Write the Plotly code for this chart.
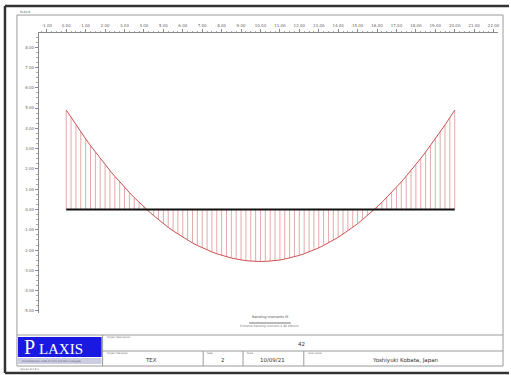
import plotly.graph_objects as go

# ---------------- data ----------------
node_x = [0.0, 0.25, 0.5, 0.75, 1.0, 1.25, 1.5, 1.75, 2.0, 2.25, 2.5, 2.75, 3.0, 3.25, 3.5, 3.75,
          4.0, 4.25, 4.5, 4.75, 5.0, 5.25, 5.5, 5.75, 6.0, 6.25, 6.5, 6.75, 7.0, 7.25, 7.5, 7.75,
          8.0, 8.25, 8.5, 8.75, 9.0, 9.25, 9.5, 9.75, 10.0, 10.25, 10.5, 10.75, 11.0, 11.25, 11.5,
          11.75, 12.0, 12.25, 12.5, 12.75, 13.0, 13.25, 13.5, 13.75, 14.0, 14.25, 14.5, 14.75, 15.0,
          15.25, 15.5, 15.75, 16.0, 16.25, 16.5, 16.75, 17.0, 17.25, 17.5, 17.75, 18.0, 18.25, 18.5,
          18.75, 19.0, 19.25, 19.5, 19.75, 20.0]
moment = [4.90, 4.53, 4.17, 3.82, 3.48, 3.15, 2.83, 2.52, 2.21, 1.92, 1.64, 1.36, 1.10, 0.84, 0.59, 0.35,
          0.13, -0.09, -0.30, -0.50, -0.70, -0.88, -1.05, -1.21, -1.37, -1.51, -1.65, -1.77, -1.89, -2.00, -2.09, -2.18,
          -2.26, -2.33, -2.39, -2.44, -2.49, -2.52, -2.54, -2.56, -2.56, -2.56, -2.54, -2.52, -2.49, -2.44, -2.39,
          -2.33, -2.26, -2.18, -2.09, -2.00, -1.89, -1.77, -1.65, -1.51, -1.37, -1.21, -1.05, -0.88, -0.70,
          -0.50, -0.30, -0.09, 0.13, 0.35, 0.59, 0.84, 1.10, 1.36, 1.64, 1.92, 2.21, 2.52, 2.83,
          3.15, 3.48, 3.82, 4.17, 4.53, 4.90]
beam_x = [0.0, 20.0]
beam_y = [0.0, 0.0]

x_tickvals = [-1, 0, 1, 2, 3, 4, 5, 6, 7, 8, 9, 10, 11, 12, 13, 14, 15, 16, 17, 18, 19, 20, 21, 22]
x_ticktext = ["-1.00", "0.00", "1.00", "2.00", "3.00", "4.00", "5.00", "6.00", "7.00", "8.00", "9.00",
              "10.00", "11.00", "12.00", "13.00", "14.00", "15.00", "16.00", "17.00", "18.00", "19.00",
              "20.00", "21.00", "22.00"]
y_tickvals = [8, 7, 6, 5, 4, 3, 2, 1, 0, -1, -2, -3, -4, -5]
y_ticktext = ["8.00", "7.00", "6.00", "5.00", "4.00", "3.00", "2.00", "1.00", "0.00",
              "-1.00", "-2.00", "-3.00", "-4.00", "-5.00"]

title_project = "42"
cell_labels = ["Project description", "Project filename", "Step", "Date", "User name"]
cell_values = ["TEX", "2", "10/09/21", "Yoshiyuki Kobata, Japan"]
caption = "Bending moments M"
caption2 = "Extreme bending moment 4.90 kNm/m"

# ---------------- figure ----------------
W, H = 511, 375


def px(x):
    return x / W


def py(y):
    return 1 - y / H


hx, hy = [], []
for xv, mv in zip(node_x, moment):
    hx += [xv, xv, None]
    hy += [0, mv, None]

fig = go.Figure()
fig.add_trace(go.Scatter(x=hx, y=hy, mode="lines",
                         line=dict(color="rgba(214,125,125,0.65)", width=1),
                         hoverinfo="skip", showlegend=False))
fig.add_trace(go.Scatter(x=node_x, y=moment, mode="lines",
                         line=dict(color="rgb(205,80,80)", width=1),
                         showlegend=False))
fig.add_trace(go.Scatter(x=beam_x, y=beam_y, mode="lines",
                         line=dict(color="#111111", width=2),
                         showlegend=False))

tickfont = dict(family="DejaVu Sans", size=4, color="#666666")
fig.update_layout(
    width=W, height=H,
    margin=dict(l=0, r=0, t=0, b=0),
    paper_bgcolor="white", plot_bgcolor="white",
    xaxis=dict(domain=[px(39), px(500)], range=[-1.41, 22.23], side="top",
               tickvals=x_tickvals, ticktext=x_ticktext, tickfont=tickfont,
               showgrid=False, zeroline=False, showline=True, linecolor="#8a8a8a", linewidth=1,
               ticks="outside", ticklen=3, tickcolor="#8a8a8a",
               minor=dict(ticks="outside", ticklen=1.5, dtick=0.25, tickcolor="#aaaaaa"),
               fixedrange=True),
    yaxis=dict(domain=[py(313), py(33)], range=[-5.10, 8.70],
               tickvals=y_tickvals, ticktext=y_ticktext, tickfont=tickfont,
               showgrid=False, zeroline=False, showline=True, linecolor="#8a8a8a", linewidth=1,
               ticks="outside", ticklen=3, tickcolor="#8a8a8a",
               minor=dict(ticks="outside", ticklen=1.5, dtick=0.25, tickcolor="#aaaaaa"),
               fixedrange=True),
)

shapes = []


def line(x0, y0, x1, y1, color="#9a9a9a", width=1):
    shapes.append(dict(type="line", xref="paper", yref="paper",
                       x0=px(x0), y0=py(y0), x1=px(x1), y1=py(y1),
                       line=dict(color=color, width=width)))


def rect(x0, y0, x1, y1, fill, color=None, width=0):
    shapes.append(dict(type="rect", xref="paper", yref="paper",
                       x0=px(x0), y0=py(y0), x1=px(x1), y1=py(y1),
                       fillcolor=fill, line=dict(color=color or fill, width=width), layer="below"))


# outer dark frame (top, left, bottom)
line(5, 6, 511, 6, color="#333333", width=2.5)
line(5, 6, 5, 373, color="#333333", width=2.5)
line(5, 373, 511, 373, color="#333333", width=2.5)
# inner frame
line(17, 15, 505, 15)
line(17, 15, 17, 366)
line(505, 15, 505, 366)
line(17, 366, 505, 366)
# title block
line(17, 335, 505, 335)
line(103, 351, 505, 351)
line(103, 335, 103, 366)
line(204, 351, 204, 366)
line(244, 351, 244, 366)
line(305, 351, 305, 366)
# caption underline
line(250, 323, 292, 323, color="#777777", width=1)
# logo
rect(18, 337, 102, 357, "rgb(25,25,225)")
rect(18, 358, 102, 364, "rgb(205,205,225)")

fig.update_layout(shapes=shapes)

ann = []


def text(x, y, s, size=5, color="#333333", xanchor="center", family="DejaVu Sans"):
    ann.append(dict(x=px(x), y=py(y), xref="paper", yref="paper", text=s, showarrow=False,
                    xanchor=xanchor, yanchor="middle",
                    font=dict(size=size, color=color, family=family)))


text(18, 12, "PLAXIS", size=3, color="#555555", xanchor="left")
text(271, 317, caption, size=3.5, color="#555555")
text(271, 326, caption2, size=3, color="#777777")
text(54, 347, "<span style='font-size:20px'>P</span> LAXIS", size=15, color="white",
     family="Liberation Serif")
text(20, 361, "Finite Element Code for Soil and Rock Analyses", size=2.5, color="#555577", xanchor="left")
text(18, 369, "Version 8.2.8.1", size=2.5, color="#666666", xanchor="left")
text(105, 337.5, cell_labels[0], size=2.5, color="#666666", xanchor="left")
text(105, 353, cell_labels[1], size=2.5, color="#666666", xanchor="left")
text(206, 353, cell_labels[2], size=2.5, color="#666666", xanchor="left")
text(246, 353, cell_labels[3], size=2.5, color="#666666", xanchor="left")
text(307, 353, cell_labels[4], size=2.5, color="#666666", xanchor="left")
text(303, 344, title_project, size=5.5)
text(152, 360, cell_values[0], size=5.5)
text(224, 360, cell_values[1], size=5.5)
text(274, 360, cell_values[2], size=5.5)
text(407, 360, cell_values[3], size=5.5)

fig.update_layout(annotations=ann)

fig.write_html("out.html", config={"displayModeBar": False},
               post_script="document.body.style.margin='0';document.body.style.overflow='hidden';")
